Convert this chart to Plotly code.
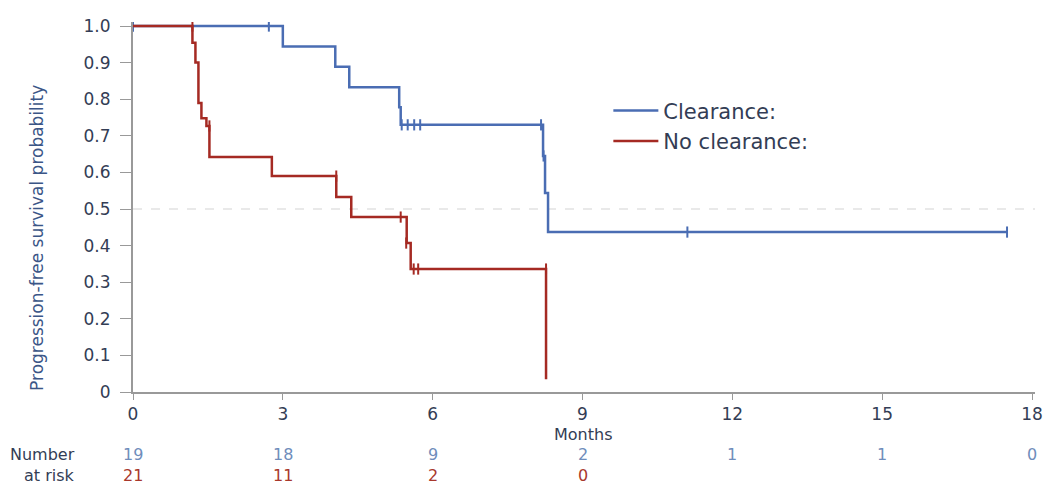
import plotly.graph_objects as go

# Kaplan-Meier step data (months, survival probability)
clear_t = [0, 3.0, 4.05, 4.33, 5.33, 5.36, 8.21, 8.25, 8.31, 17.5]
clear_s = [1.0, 0.944, 0.889, 0.833, 0.778, 0.730, 0.645, 0.544, 0.437, 0.437]
clear_cens_t = [0, 2.72, 5.38, 5.5, 5.63, 5.75, 8.17, 8.22, 11.1, 17.5]
clear_cens_s = [1.0, 1.0, 0.73, 0.73, 0.73, 0.73, 0.73, 0.645, 0.437, 0.437]

noclr_t = [0, 1.19, 1.25, 1.31, 1.37, 1.47, 1.53, 2.78, 4.07, 4.37, 5.48, 5.56, 8.27]
noclr_s = [1.0, 0.954, 0.90, 0.79, 0.748, 0.727, 0.642, 0.59, 0.533, 0.478, 0.407, 0.336, 0.035]
noclr_cens_t = [1.19, 1.53, 4.07, 5.36, 5.47, 5.62, 5.71, 8.27]
noclr_cens_s = [1.0, 0.727, 0.59, 0.478, 0.407, 0.336, 0.336, 0.336]

risk_times = [0, 3, 6, 9, 12, 15, 18]
risk_clear = [19, 18, 9, 2, 1, 1, 0]
risk_noclr_times = [0, 3, 6, 9]
risk_noclr = [21, 11, 2, 0]

x_ticks = [0, 3, 6, 9, 12, 15, 18]
y_ticks = [0, 0.1, 0.2, 0.3, 0.4, 0.5, 0.6, 0.7, 0.8, 0.9, 1.0]
y_ticktext = ["0", "0.1", "0.2", "0.3", "0.4", "0.5", "0.6", "0.7", "0.8", "0.9", "1.0"]

BLUE = "#4a6db3"
RED = "#a52a23"
TXT = "#333d55"
FONT = "DejaVu Sans, Liberation Sans, Arial, sans-serif"

fig = go.Figure()

# median reference line
fig.add_trace(go.Scatter(x=[0, 18.06], y=[0.5, 0.5], mode="lines",
                         line=dict(color="#d3d3d3", width=1, dash="dash"),
                         showlegend=False, hoverinfo="skip"))

fig.add_trace(go.Scatter(x=clear_t, y=clear_s, mode="lines", line_shape="hv",
                         line=dict(color=BLUE, width=2.5), name="Clearance:"))
fig.add_trace(go.Scatter(x=clear_cens_t, y=clear_cens_s, mode="markers",
                         marker=dict(symbol="line-ns-open", size=8, color=BLUE,
                                     line=dict(color=BLUE, width=2)),
                         showlegend=False))
fig.add_trace(go.Scatter(x=noclr_t, y=noclr_s, mode="lines", line_shape="hv",
                         line=dict(color=RED, width=2.5), name="No clearance:"))
fig.add_trace(go.Scatter(x=noclr_cens_t, y=noclr_cens_s, mode="markers",
                         marker=dict(symbol="line-ns-open", size=8, color=RED,
                                     line=dict(color=RED, width=2)),
                         showlegend=False))

RISK_Y1 = -0.170
RISK_Y2 = -0.227
ann = []
for t, n in zip(risk_times, risk_clear):
    ann.append(dict(x=t, y=RISK_Y1, xref="x", yref="paper", text=str(n),
                    showarrow=False, yanchor="middle",
                    font=dict(size=16, color="#6f8dbb", family=FONT)))
for t, n in zip(risk_noclr_times, risk_noclr):
    ann.append(dict(x=t, y=RISK_Y2, xref="x", yref="paper", text=str(n),
                    showarrow=False, yanchor="middle",
                    font=dict(size=16, color="#a8382c", family=FONT)))
ann.append(dict(x=-0.062, y=RISK_Y1, xref="x domain", yref="paper", text="Number",
                showarrow=False, xanchor="right", yanchor="middle",
                font=dict(size=16, color=TXT, family=FONT)))
ann.append(dict(x=-0.062, y=RISK_Y2, xref="x domain", yref="paper", text="at risk",
                showarrow=False, xanchor="right", yanchor="middle",
                font=dict(size=16, color=TXT, family=FONT)))
ann.append(dict(x=9, y=-0.114, xref="x", yref="paper", text="Months",
                showarrow=False, yanchor="middle",
                font=dict(size=16, color=TXT, family=FONT)))
# y-axis title (positioned like the reference, slightly below axis centre)
ann.append(dict(x=-0.1066, y=0.416, xref="x domain", yref="paper",
                text="Progression-free survival probability", textangle=-90,
                showarrow=False, xanchor="center", yanchor="middle",
                font=dict(size=17, color="#3b5687", family=FONT)))

fig.update_layout(
    width=1053, height=485,
    margin=dict(l=133, r=10, t=22, b=93),
    paper_bgcolor="white", plot_bgcolor="white",
    font=dict(family=FONT, color=TXT),
    showlegend=True,
    legend=dict(x=0.527, y=0.815, xanchor="left", yanchor="top",
                font=dict(size=21, color=TXT, family=FONT),
                bgcolor="rgba(0,0,0,0)", tracegroupgap=0, itemwidth=45),
    annotations=ann,
)
fig.update_xaxes(range=[0, 18.06], tickvals=x_ticks, ticks="outside", ticklen=6,
                 tickcolor="#999999", showline=True, linecolor="#999999", linewidth=2,
                 showgrid=False, zeroline=False,
                 tickfont=dict(size=17, color=TXT, family=FONT))
fig.update_yaxes(range=[0, 1.011], tickvals=y_ticks, ticktext=y_ticktext,
                 ticks="outside", ticklen=11, tickcolor="#999999",
                 showline=True, linecolor="#999999", linewidth=2,
                 showgrid=False, zeroline=False, ticklabelstandoff=6,
                 tickfont=dict(size=17, color=TXT, family=FONT))

fig.write_html("out.html")
